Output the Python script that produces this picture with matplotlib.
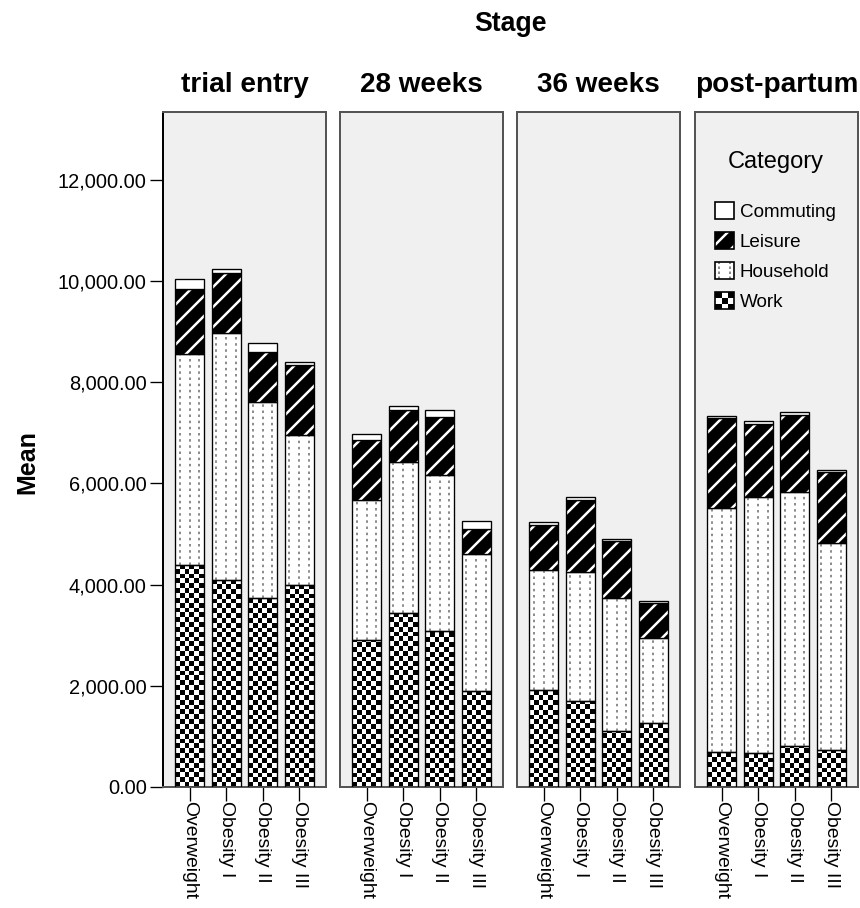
import numpy as np
import matplotlib.pyplot as plt
from matplotlib.patches import Rectangle, Patch
from matplotlib.lines import Line2D
from matplotlib.legend_handler import HandlerBase

plt.rcParams['font.family'] = ['Liberation Sans', 'DejaVu Sans']
plt.rcParams['hatch.linewidth'] = 1.5

stages = ['trial entry', '28 weeks', '36 weeks', 'post-partum']
groups = ['Overweight', 'Obesity I', 'Obesity II', 'Obesity III']
categories = ['Commuting', 'Leisure', 'Household', 'Work']

# mean values per stage (rows) and BMI group (columns)
work = [[4390, 4090, 3735, 3990],
        [2905, 3439, 3083, 1897],
        [1917, 1700, 1107, 1265],
        [692, 680, 810, 730]]
household = [[4167, 4882, 3874, 2967],
             [2767, 2984, 3083, 2708],
             [2372, 2549, 2628, 1680],
             [4822, 5051, 5020, 4092]]
leisure = [[1285, 1186, 988, 1383],
           [1186, 1027, 1146, 494],
           [889, 1423, 1127, 695],
           [1778, 1443, 1522, 1403]]
commuting = [[198, 79, 178, 59],
             [118, 70, 138, 158],
             [59, 59, 39, 36],
             [40, 59, 59, 40]]

yticks = [0, 2000, 4000, 6000, 8000, 10000, 12000]
ymax = 13340


class Swatch(HandlerBase):
    """Small legend squares that mimic the fill patterns of the bars."""

    def __init__(self, kind):
        super().__init__()
        self.kind = kind

    def create_artists(self, legend, orig_handle, xdescent, ydescent,
                       width, height, fontsize, trans):
        x0, y0 = -xdescent, -ydescent
        arts = []
        if self.kind == 'Work':
            n = 3
            for r in range(n):
                for c in range(n):
                    fc = 'black' if (r + c) % 2 == 0 else 'white'
                    arts.append(Rectangle((x0 + c * width / n, y0 + r * height / n),
                                          width / n, height / n, facecolor=fc, lw=0))
        elif self.kind == 'Leisure':
            arts.append(Rectangle((x0, y0), width, height, facecolor='black',
                                  edgecolor='white', hatch='//', lw=0))
        else:
            arts.append(Rectangle((x0, y0), width, height, facecolor='white', lw=0))
            if self.kind == 'Household':
                for f in (0.2, 0.8):
                    arts.append(Line2D([x0 + f * width] * 2, [y0, y0 + height],
                                       color='#777777', lw=1, linestyle=(0, (1.5, 1.5))))
        arts.append(Rectangle((x0, y0), width, height, fill=False,
                              edgecolor='black', lw=1.0))
        for a in arts:
            a.set_transform(trans)
        return arts


fig = plt.figure(figsize=(860 / 120, 908 / 120), dpi=120)
fig.text(510 / 860, 1 - 31 / 908, 'Stage', ha='center', va='baseline',
         fontsize=16, fontweight='bold')
fig.text(27 / 860, 1 - 462 / 908, 'Mean', rotation=90, ha='center', va='center',
         fontsize=15, fontweight='bold')

panel_left = [163, 340, 517, 695]
x = np.arange(len(groups))
w = 0.795

for i, stage in enumerate(stages):
    ax = fig.add_axes([panel_left[i] / 860, 121 / 908, 163 / 860, 675 / 908])
    ax.set_facecolor('#f0f0f0')
    ax.set_xlim(-0.73, 3.74)
    ax.set_ylim(0, ymax)

    wk = np.array(work[i])
    hh = np.array(household[i])
    le = np.array(leisure[i])
    cm = np.array(commuting[i])

    # checker square size: six squares across a bar, square in pixels
    p0 = ax.transData.transform((0, 0))
    p1 = ax.transData.transform((w / 6, 0))
    sq_px = p1[0] - p0[0]
    sq_y = ax.transData.inverted().transform((p0[0], p0[1] + sq_px))[1]

    # work: checkerboard
    bars = ax.bar(x, wk, w, facecolor='none', edgecolor='black', lw=0.8, zorder=3)
    for xi, val, patch in zip(x, wk, bars.patches):
        rows = int(np.ceil(val / sq_y))
        grid = np.add.outer(np.arange(rows), np.arange(6)) % 2
        im = ax.imshow(grid, cmap='gray', vmin=0, vmax=1, origin='lower',
                       extent=(xi - w / 2, xi + w / 2, 0, rows * sq_y),
                       interpolation='nearest', aspect='auto', zorder=2)
        im.set_clip_path(patch)

    # household: white with grey dotted lines
    ax.bar(x, hh, w, bottom=wk, color='white', edgecolor='black', lw=0.8, zorder=2)
    for f in (1 / 6, 1 / 2, 5 / 6):
        ax.vlines(x - w / 2 + f * w, wk, wk + hh, colors='#777777', lw=1.0,
                  linestyles=[(0, (1.5, 2.2))], zorder=2.5)

    # leisure: black with white diagonal stripes
    ax.bar(x, le, w, bottom=wk + hh, color='black', edgecolor='white',
           hatch='//', lw=0, zorder=2)
    ax.bar(x, le, w, bottom=wk + hh, fill=False, edgecolor='black', lw=0.8, zorder=3)

    # commuting: plain white
    ax.bar(x, cm, w, bottom=wk + hh + le, color='white', edgecolor='black',
           lw=0.8, zorder=3)

    ax.set_xlim(-0.73, 3.74)
    ax.set_ylim(0, ymax)
    for s in ax.spines.values():
        s.set_color('#555555')
        s.set_linewidth(1.2)

    ax.set_xticks(x, groups, rotation=270, fontsize=11.6)
    ax.tick_params(axis='x', length=8.4, width=0.8, pad=0, color='black')
    for lab in ax.get_xticklabels():
        lab.set_va('top')
        lab.set_ha('center')

    if i == 0:
        ax.set_yticks(yticks, [f'{v:,.2f}' for v in yticks], fontsize=12)
        ax.tick_params(axis='y', length=7.8, width=0.8, pad=2, color='black')
        ax.spines['left'].set_color('black')
    else:
        ax.tick_params(axis='y', left=False, labelleft=False)

    ax.text(0.5, (787 - 92) / 675, stage, transform=ax.transAxes, ha='center',
            va='baseline', fontsize=16.7, fontweight='bold')

    if i == len(stages) - 1:
        ax.text(0.494, (787 - 162) / 675, 'Category', transform=ax.transAxes,
                ha='center', va='center', fontsize=14.2)
        handles = [Patch(label=c) for c in categories]
        ax.legend(handles=handles, handler_map={h: Swatch(c) for h, c in zip(handles, categories)},
                  fontsize=11.3, frameon=False,
                  loc='upper center', bbox_to_anchor=(0.494, (787 - 185) / 675),
                  handlelength=1.0, handleheight=1.0, handletextpad=0.3,
                  labelspacing=0.6)

fig.savefig('out.png', dpi=120)
